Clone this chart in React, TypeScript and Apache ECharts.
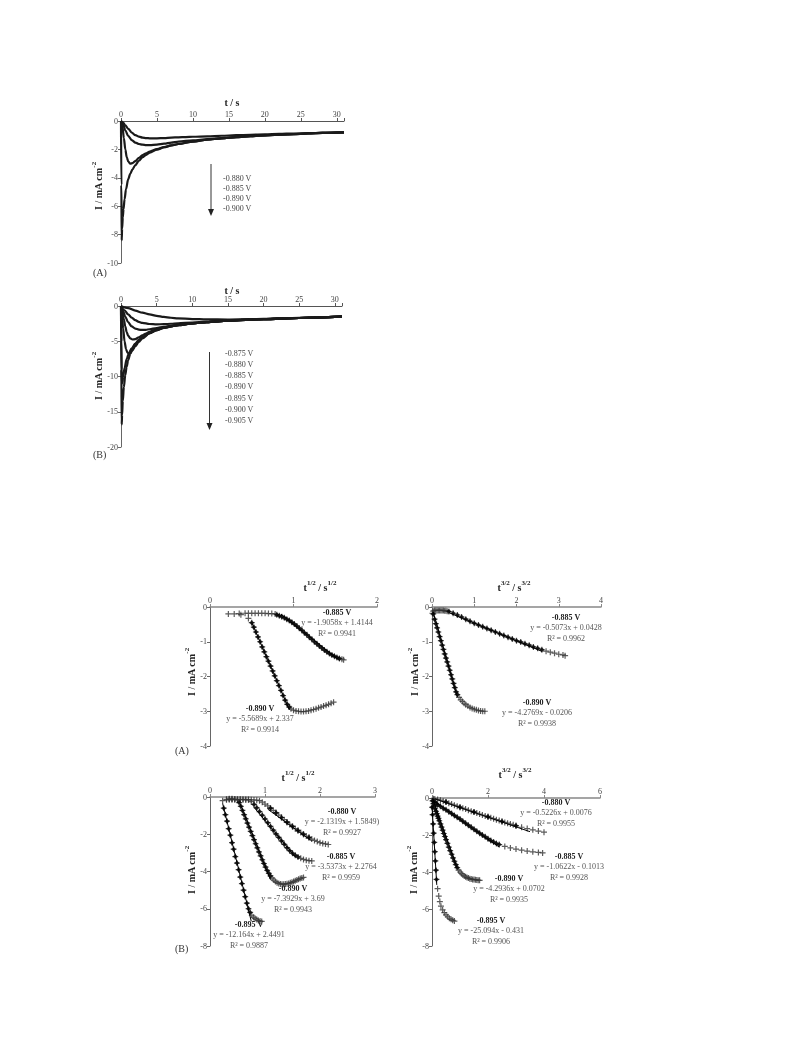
import React, { useEffect, useRef } from 'react';
import * as echarts from 'echarts';

const FONT = '"Liberation Serif", "DejaVu Serif", serif';

// ---------- Top panel (A): current transients [t / s, I / mA cm^-2]
const topALabels = ['-0.880 V', '-0.885 V', '-0.890 V', '-0.900 V'];
const topA880 = [[0,0],[0.3,-0.12],[0.6,-0.3],[1,-0.55],[1.5,-0.82],[2,-1.0],[2.5,-1.1],[3,-1.17],[3.5,-1.2],[4,-1.22],[5,-1.22],[6,-1.2],[7,-1.17],[8,-1.15],[9,-1.13],[10,-1.11],[12,-1.08],[14,-1.04],[16,-1.0],[18,-0.97],[20,-0.94],[22,-0.91],[24,-0.88],[26,-0.86],[28,-0.83],[30,-0.8],[31,-0.8]];
const topA885 = [[0,0],[0.3,-0.25],[0.6,-0.65],[1,-1.05],[1.5,-1.35],[2,-1.52],[2.5,-1.62],[3,-1.67],[3.5,-1.7],[4,-1.7],[5,-1.66],[6,-1.6],[7,-1.52],[8,-1.45],[10,-1.36],[12,-1.28],[14,-1.2],[16,-1.13],[18,-1.07],[20,-1.01],[24,-0.92],[28,-0.84],[31,-0.8]];
const topA890 = [[0,0],[0.2,-0.4],[0.4,-1.2],[0.6,-2.0],[0.8,-2.55],[1,-2.85],[1.3,-3.0],[1.6,-2.97],[2,-2.82],[2.5,-2.6],[3,-2.4],[3.5,-2.27],[4,-2.15],[5,-1.98],[6,-1.84],[7,-1.72],[8,-1.62],[10,-1.45],[12,-1.32],[14,-1.22],[16,-1.14],[18,-1.07],[20,-1.01],[24,-0.92],[28,-0.84],[31,-0.8]];
const topA900 = [[0,0],[0.05,-4.5],[0.1,-8.4],[0.15,-7.6],[0.25,-6.8],[0.35,-6.2],[0.5,-5.5],[0.7,-4.8],[1,-4.1],[1.3,-3.7],[1.6,-3.4],[2,-3.1],[2.5,-2.8],[3,-2.55],[3.5,-2.38],[4,-2.23],[5,-2.02],[6,-1.85],[7,-1.72],[8,-1.62],[10,-1.45],[12,-1.32],[14,-1.22],[16,-1.14],[18,-1.07],[20,-1.01],[22,-0.96],[24,-0.92],[26,-0.88],[28,-0.84],[31,-0.8]];

// ---------- Top panel (B)
const topBLabels = ['-0.875 V', '-0.880 V', '-0.885 V', '-0.890 V', '-0.895 V', '-0.900 V', '-0.905 V'];
const topB875 = [[0,0],[1,-0.3],[2,-0.65],[3,-0.95],[4,-1.2],[5,-1.4],[6,-1.55],[7,-1.67],[8,-1.75],[10,-1.85],[12,-1.9],[15,-1.92],[18,-1.88],[20,-1.82],[22,-1.76],[25,-1.68],[28,-1.6],[31,-1.52]];
const topB880 = [[0,0],[0.5,-0.6],[1,-1.2],[1.5,-1.65],[2,-2.0],[2.5,-2.25],[3,-2.4],[4,-2.55],[5,-2.6],[6,-2.58],[7,-2.52],[8,-2.45],[10,-2.35],[12,-2.22],[15,-2.05],[18,-1.92],[20,-1.85],[22,-1.78],[25,-1.7],[28,-1.6],[31,-1.52]];
const topB885 = [[0,0],[0.3,-0.7],[0.6,-1.5],[1,-2.3],[1.5,-2.9],[2,-3.2],[2.5,-3.35],[3,-3.4],[3.5,-3.38],[4,-3.3],[5,-3.12],[6,-2.95],[7,-2.8],[8,-2.68],[10,-2.47],[12,-2.28],[15,-2.08],[18,-1.94],[20,-1.86],[25,-1.7],[31,-1.52]];
const topB890 = [[0,0],[0.2,-0.8],[0.4,-1.9],[0.6,-2.9],[0.8,-3.7],[1,-4.2],[1.3,-4.6],[1.6,-4.75],[2,-4.7],[2.5,-4.45],[3,-4.15],[3.5,-3.9],[4,-3.65],[5,-3.3],[6,-3.05],[7,-2.85],[8,-2.7],[10,-2.47],[12,-2.28],[15,-2.08],[20,-1.86],[25,-1.7],[31,-1.52]];
const topB895 = [[0,0],[0.15,-1.5],[0.3,-3.2],[0.5,-5.0],[0.7,-6.1],[0.9,-6.6],[1.1,-6.75],[1.3,-6.7],[1.6,-6.3],[2,-5.7],[2.5,-5.1],[3,-4.6],[4,-3.9],[5,-3.45],[6,-3.1],[7,-2.88],[8,-2.72],[10,-2.48],[12,-2.28],[15,-2.08],[20,-1.86],[25,-1.7],[31,-1.52]];
const topB900 = [[0,0],[0.05,-5],[0.1,-11],[0.2,-10.8],[0.3,-10.0],[0.5,-8.8],[0.8,-7.5],[1.1,-6.7],[1.5,-6.0],[2,-5.35],[2.5,-4.85],[3,-4.45],[4,-3.85],[5,-3.42],[6,-3.1],[8,-2.72],[10,-2.48],[12,-2.28],[15,-2.08],[20,-1.86],[25,-1.7],[31,-1.52]];
const topB905 = [[0,0],[0.05,-9],[0.1,-16.8],[0.15,-15.5],[0.25,-13.5],[0.4,-11.5],[0.6,-9.8],[0.8,-8.6],[1,-7.7],[1.3,-6.8],[1.6,-6.1],[2,-5.4],[2.5,-4.85],[3,-4.4],[4,-3.8],[5,-3.38],[6,-3.08],[8,-2.7],[10,-2.47],[12,-2.28],[15,-2.08],[20,-1.86],[25,-1.7],[31,-1.52]];

// ---------- Bottom (A) left: I vs t^1/2
const cA885Plus = [[0.22,-0.2],[0.29,-0.2],[0.35,-0.19],[0.37,-0.22],[0.42,-0.18],[0.46,-0.18],[0.5,-0.18],[0.54,-0.18],[0.58,-0.18],[0.62,-0.18],[0.66,-0.18],[0.7,-0.19],[0.74,-0.19],[0.78,-0.2],[1.58,-1.5],[1.6,-1.52]];
const cA885Dia = [[0.8,-0.22],[0.83,-0.25],[0.86,-0.28],[0.89,-0.31],[0.92,-0.35],[0.95,-0.39],[0.98,-0.44],[1.01,-0.49],[1.04,-0.55],[1.07,-0.61],[1.1,-0.67],[1.13,-0.74],[1.16,-0.8],[1.19,-0.87],[1.22,-0.93],[1.25,-1.0],[1.28,-1.06],[1.31,-1.12],[1.34,-1.18],[1.37,-1.24],[1.4,-1.29],[1.43,-1.34],[1.46,-1.38],[1.49,-1.42],[1.52,-1.45],[1.55,-1.48]];
const cA890Plus = [[0.46,-0.33],[0.97,-2.93],[1.0,-2.97],[1.03,-2.99],[1.06,-3.0],[1.09,-3.01],[1.12,-3.01],[1.15,-3.0],[1.18,-2.99],[1.21,-2.97],[1.24,-2.95],[1.27,-2.93],[1.3,-2.9],[1.33,-2.88],[1.36,-2.85],[1.39,-2.83],[1.42,-2.8],[1.45,-2.77],[1.48,-2.74]];
const cA890Dia = [[0.5,-0.45],[0.525,-0.58],[0.55,-0.72],[0.575,-0.86],[0.6,-1.0],[0.625,-1.15],[0.65,-1.29],[0.675,-1.43],[0.7,-1.56],[0.725,-1.7],[0.75,-1.84],[0.775,-1.98],[0.8,-2.12],[0.825,-2.26],[0.85,-2.4],[0.875,-2.55],[0.9,-2.68],[0.925,-2.8],[0.95,-2.88]];

// ---------- Bottom (A) right: I vs t^3/2
const dA885Plus = [[0.03,-0.12],[0.06,-0.1],[0.09,-0.1],[0.12,-0.1],[0.15,-0.1],[0.18,-0.1],[0.21,-0.1],[0.24,-0.1],[0.27,-0.1],[0.3,-0.11],[0.33,-0.11],[0.36,-0.12],[2.7,-1.27],[2.8,-1.3],[2.9,-1.33],[3.0,-1.36],[3.1,-1.38],[3.15,-1.4]];
const dA885Dia = [[0.4,-0.13],[0.5,-0.18],[0.6,-0.23],[0.7,-0.29],[0.8,-0.35],[0.9,-0.41],[1.0,-0.47],[1.1,-0.52],[1.2,-0.57],[1.3,-0.62],[1.4,-0.67],[1.5,-0.72],[1.6,-0.77],[1.7,-0.82],[1.8,-0.87],[1.9,-0.92],[2.0,-0.97],[2.1,-1.01],[2.2,-1.06],[2.3,-1.1],[2.4,-1.15],[2.5,-1.19],[2.6,-1.23]];
const dA890Plus = [[0.01,-0.18],[0.64,-2.6],[0.68,-2.67],[0.72,-2.72],[0.76,-2.77],[0.8,-2.81],[0.85,-2.85],[0.9,-2.89],[0.95,-2.92],[1.0,-2.94],[1.05,-2.96],[1.1,-2.98],[1.15,-2.99],[1.2,-3.0],[1.25,-3.0]];
const dA890Dia = [[0.03,-0.2],[0.06,-0.35],[0.09,-0.48],[0.12,-0.6],[0.15,-0.72],[0.18,-0.85],[0.21,-0.97],[0.24,-1.1],[0.27,-1.22],[0.3,-1.35],[0.33,-1.47],[0.36,-1.58],[0.39,-1.7],[0.42,-1.82],[0.45,-1.95],[0.48,-2.07],[0.51,-2.2],[0.54,-2.32],[0.57,-2.44],[0.6,-2.52]];

// ---------- Bottom (B) left: I vs t^1/2
const eB880Plus = [[0.3,-0.15],[0.35,-0.14],[0.4,-0.15],[0.45,-0.13],[0.5,-0.15],[0.55,-0.14],[0.6,-0.14],[0.65,-0.15],[0.7,-0.14],[0.75,-0.15],[0.8,-0.16],[0.85,-0.17],[0.9,-0.2],[0.95,-0.28],[1.0,-0.38],[1.05,-0.48],[1.1,-0.6],[1.15,-0.72],[1.2,-0.85],[1.25,-0.97],[1.3,-1.1],[1.35,-1.22],[1.4,-1.35],[1.45,-1.47],[1.5,-1.58],[1.55,-1.7],[1.6,-1.8],[1.65,-1.9],[1.7,-2.0],[1.75,-2.1],[1.8,-2.18],[1.85,-2.26],[1.9,-2.33],[1.95,-2.39],[2.0,-2.45],[2.05,-2.49],[2.1,-2.52],[2.15,-2.55]];
const eB880Dia = [[1.1,-0.6],[1.2,-0.85],[1.3,-1.1],[1.4,-1.35],[1.5,-1.58],[1.6,-1.8],[1.7,-2.0],[1.8,-2.18]];
const eB885Plus = [[0.3,-0.12],[0.35,-0.12],[0.4,-0.11],[0.45,-0.12],[0.5,-0.12],[0.55,-0.12],[0.6,-0.13],[0.65,-0.13],[0.7,-0.15],[0.75,-0.25],[1.65,-3.29],[1.7,-3.35],[1.75,-3.39],[1.8,-3.42],[1.85,-3.43]];
const eB885Dia = [[0.8,-0.4],[0.85,-0.58],[0.9,-0.78],[0.95,-0.98],[1.0,-1.18],[1.05,-1.38],[1.1,-1.58],[1.15,-1.78],[1.2,-1.98],[1.25,-2.17],[1.3,-2.36],[1.35,-2.54],[1.4,-2.72],[1.45,-2.88],[1.5,-3.02],[1.55,-3.13],[1.6,-3.22]];
const eB890Plus = [[0.35,-0.1],[0.4,-0.1],[0.45,-0.12],[0.5,-0.15],[1.13,-4.36],[1.16,-4.46],[1.19,-4.54],[1.22,-4.6],[1.25,-4.64],[1.28,-4.67],[1.31,-4.68],[1.34,-4.68],[1.37,-4.67],[1.4,-4.66],[1.43,-4.64],[1.46,-4.61],[1.49,-4.58],[1.52,-4.54],[1.55,-4.5],[1.58,-4.46],[1.61,-4.42],[1.64,-4.38],[1.67,-4.35],[1.7,-4.32]];
const eB890Dia = [[0.53,-0.3],[0.56,-0.5],[0.59,-0.72],[0.62,-0.95],[0.65,-1.17],[0.68,-1.4],[0.71,-1.62],[0.74,-1.85],[0.77,-2.07],[0.8,-2.29],[0.83,-2.51],[0.86,-2.73],[0.89,-2.95],[0.92,-3.16],[0.95,-3.37],[0.98,-3.57],[1.01,-3.76],[1.04,-3.94],[1.07,-4.1],[1.1,-4.24]];
const eB895Plus = [[0.23,-0.2],[0.76,-6.35],[0.79,-6.45],[0.82,-6.52],[0.85,-6.58],[0.88,-6.63],[0.91,-6.66],[0.94,-6.68]];
const eB895Dia = [[0.25,-0.6],[0.28,-0.95],[0.31,-1.3],[0.34,-1.7],[0.37,-2.05],[0.4,-2.45],[0.43,-2.8],[0.46,-3.2],[0.49,-3.55],[0.52,-3.9],[0.55,-4.3],[0.58,-4.65],[0.61,-5.0],[0.64,-5.35],[0.67,-5.7],[0.7,-6.0],[0.73,-6.2]];

// ---------- Bottom (B) right: I vs t^3/2
const fB880Plus = [[0.05,-0.04],[0.1,-0.05],[0.2,-0.08],[0.3,-0.12],[0.4,-0.17],[0.5,-0.22],[0.6,-0.28],[0.7,-0.33],[0.8,-0.39],[0.9,-0.44],[1.0,-0.5],[1.1,-0.55],[1.2,-0.6],[1.3,-0.66],[1.4,-0.71],[1.5,-0.76],[1.6,-0.81],[1.7,-0.87],[1.8,-0.92],[1.9,-0.97],[2.0,-1.02],[2.1,-1.07],[2.2,-1.12],[2.3,-1.17],[2.4,-1.22],[2.5,-1.27],[2.6,-1.32],[2.7,-1.36],[2.8,-1.41],[2.9,-1.45],[3.0,-1.5],[3.2,-1.58],[3.4,-1.65],[3.6,-1.72],[3.8,-1.79],[4.0,-1.85]];
const fB880Dia = [[0.5,-0.22],[1.0,-0.5],[1.5,-0.76],[2.0,-1.02],[2.5,-1.27],[3.0,-1.5]];
const fB885Plus = [[2.6,-2.62],[2.8,-2.7],[3.0,-2.76],[3.2,-2.82],[3.4,-2.87],[3.6,-2.91],[3.8,-2.94],[3.95,-2.97]];
const fB885Dia = [[0.05,-0.15],[0.1,-0.22],[0.15,-0.3],[0.2,-0.37],[0.3,-0.45],[0.4,-0.55],[0.5,-0.64],[0.6,-0.74],[0.7,-0.84],[0.8,-0.94],[0.9,-1.04],[1.0,-1.14],[1.1,-1.25],[1.2,-1.36],[1.3,-1.47],[1.4,-1.58],[1.5,-1.69],[1.6,-1.8],[1.7,-1.9],[1.8,-2.0],[1.9,-2.1],[2.0,-2.2],[2.1,-2.3],[2.2,-2.38],[2.3,-2.46],[2.4,-2.52]];
const fB890Plus = [[0.95,-3.9],[1.0,-4.0],[1.05,-4.08],[1.1,-4.15],[1.15,-4.21],[1.2,-4.26],[1.25,-4.3],[1.3,-4.33],[1.35,-4.36],[1.4,-4.38],[1.45,-4.4],[1.5,-4.41],[1.55,-4.42],[1.6,-4.43],[1.65,-4.44],[1.7,-4.45]];
const fB890Dia = [[0.02,-0.15],[0.05,-0.3],[0.08,-0.45],[0.11,-0.58],[0.14,-0.72],[0.17,-0.85],[0.2,-0.98],[0.23,-1.1],[0.26,-1.23],[0.3,-1.4],[0.34,-1.57],[0.38,-1.74],[0.42,-1.92],[0.46,-2.08],[0.5,-2.25],[0.55,-2.45],[0.6,-2.66],[0.65,-2.85],[0.7,-3.04],[0.75,-3.24],[0.8,-3.42],[0.85,-3.6],[0.9,-3.76]];
const fB895Plus = [[0.2,-4.9],[0.24,-5.3],[0.28,-5.6],[0.32,-5.85],[0.38,-6.05],[0.44,-6.2],[0.5,-6.32],[0.56,-6.42],[0.62,-6.5],[0.68,-6.56],[0.74,-6.61],[0.8,-6.65]];
const fB895Dia = [[0.0,-0.5],[0.02,-0.9],[0.04,-1.4],[0.06,-1.9],[0.08,-2.4],[0.1,-2.9],[0.12,-3.4],[0.14,-3.9],[0.16,-4.4]];

// Linear fits: [slope, intercept], fit x-range
const fitCA885 = [-1.9058, 1.4144]; const rangeCA885 = [0.85, 1.55];
const fitCA890 = [-5.5689, 2.337]; const rangeCA890 = [0.5, 0.95];
const fitDA885 = [-0.5073, 0.0428]; const rangeDA885 = [0.4, 2.6];
const fitDA890 = [-4.2769, -0.0206]; const rangeDA890 = [0.03, 0.6];
const fitEB880 = [-2.1319, 1.5849]; const rangeEB880 = [1.05, 1.85];
const fitEB885 = [-3.5373, 2.2764]; const rangeEB885 = [0.8, 1.55];
const fitEB890 = [-7.3929, 3.69]; const rangeEB890 = [0.55, 1.1];
const fitEB895 = [-12.164, 2.4491]; const rangeEB895 = [0.23, 0.75];
const fitFB880 = [-0.5226, 0.0076]; const rangeFB880 = [0.1, 3.5];
const fitFB885 = [-1.0622, -0.1013]; const rangeFB885 = [0.05, 2.4];
const fitFB890 = [-4.2936, 0.0702]; const rangeFB890 = [0.02, 0.9];
const fitFB895 = [-25.094, -0.431]; const rangeFB895 = [0.0, 0.17];

const PLUS = 'path://M4,0H6V4H10V6H6V10H4V6H0V4H4Z';

function fitData(fit: number[], range: number[]) {
  return range.map((x) => [x, fit[0] * x + fit[1]]);
}

function transient(g: number, data: number[][]) {
  return {
    type: 'line', xAxisIndex: g, yAxisIndex: g, data, showSymbol: false,
    smooth: 0.3, smoothMonotone: 'x',
    lineStyle: { color: '#1a1a1a', width: 2.2 }, silent: true,
  };
}

function curve(g: number, plus: number[][], dia: number[][], fit: number[], range: number[]) {
  return [
    { type: 'scatter', xAxisIndex: g, yAxisIndex: g, data: plus, symbol: PLUS, symbolSize: 6, itemStyle: { color: '#333' }, silent: true },
    { type: 'scatter', xAxisIndex: g, yAxisIndex: g, data: dia, symbol: PLUS, symbolSize: 6, itemStyle: { color: '#333' }, silent: true },
    { type: 'scatter', xAxisIndex: g, yAxisIndex: g, data: dia, symbol: 'diamond', symbolSize: 5, itemStyle: { color: '#000' }, silent: true },
    { type: 'line', xAxisIndex: g, yAxisIndex: g, data: fitData(fit, range), showSymbol: false, lineStyle: { color: '#000', width: 1 }, silent: true },
  ];
}

function xAx(g: number, min: number, max: number, interval: number, color: string, width: number, step?: number) {
  return {
    gridIndex: g, type: 'value', position: 'top', min, max, interval,
    axisLine: { onZero: false, lineStyle: { color, width } },
    axisTick: { show: true, length: 3, lineStyle: { color } },
    axisLabel: {
      fontFamily: FONT, fontSize: 8, color: '#444', margin: 3,
      formatter: (v: number) => (step && Math.abs(v % step) > 1e-9 ? '' : String(v)),
    },
    splitLine: { show: false },
  };
}

function yAx(g: number, min: number, max: number, interval: number) {
  return {
    gridIndex: g, type: 'value', position: 'left', min, max, interval,
    axisLine: { onZero: false, lineStyle: { color: '#666', width: 1 } },
    axisTick: { show: true, length: 3, lineStyle: { color: '#666' } },
    axisLabel: { fontFamily: FONT, fontSize: 8, color: '#444', margin: 3 },
    splitLine: { show: false },
  };
}

function txt(x: number, y: number, text: string, font: string, color = '#333', align = 'center', extra: any = {}) {
  return {
    type: 'text', x, y, silent: true,
    style: { text, font, fill: color, textAlign: align, textVerticalAlign: 'middle', align, verticalAlign: 'middle', ...extra },
  };
}

const supRich = (size: number) => ({
  b: { font: `bold ${size}px ${FONT}`, fill: '#222', verticalAlign: 'bottom' },
  s: { font: `bold ${Math.round(size * 0.68)}px ${FONT}`, fill: '#222', verticalAlign: 'top', padding: [0, 0, 6, 0] },
});

function yTitle(x: number, y: number) {
  return {
    type: 'text', x, y, rotation: Math.PI / 2, silent: true,
    style: {
      text: '{b|I / mA cm}{s|-2}', rich: supRich(10), textAlign: 'center', textVerticalAlign: 'middle',
      align: 'center', verticalAlign: 'middle',
    },
  };
}

function xTitleSup(x: number, y: number, p: string) {
  return {
    type: 'text', x, y, silent: true,
    style: {
      text: `{b|t}{s|${p}}{b| / s}{s|${p}}`, rich: supRich(10), textAlign: 'center', textVerticalAlign: 'middle',
      align: 'center', verticalAlign: 'middle',
    },
  };
}

function eqBlock(x: number, y: number, label: string, eq: string, r2: string) {
  return [
    txt(x, y, label, `bold 8px ${FONT}`, '#222'),
    txt(x, y + 10.5, eq, `8px ${FONT}`, '#555'),
    txt(x, y + 21, r2, `8px ${FONT}`, '#555'),
  ];
}

export default function App() {
  const ref = useRef<HTMLDivElement>(null);
  useEffect(() => {
    if (!ref.current) return;
    const chart = echarts.init(ref.current, undefined, { renderer: 'svg' });
    const legendFont = `8px ${FONT}`;
    const graphic: any[] = [
      txt(232, 102, 't / s', `bold 10px ${FONT}`, '#222'),
      txt(232, 290, 't / s', `bold 10px ${FONT}`, '#222'),
      yTitle(97, 186),
      yTitle(97, 376),
      txt(93, 272, '(A)', `10px ${FONT}`, '#333', 'left'),
      txt(93, 454, '(B)', `10px ${FONT}`, '#333', 'left'),
      { type: 'line', silent: true, shape: { x1: 211, y1: 164, x2: 211, y2: 210 }, style: { stroke: '#333', lineWidth: 1 } },
      { type: 'polygon', silent: true, shape: { points: [[208, 209], [214, 209], [211, 216]] }, style: { fill: '#222' } },
      { type: 'line', silent: true, shape: { x1: 209.5, y1: 352, x2: 209.5, y2: 424 }, style: { stroke: '#333', lineWidth: 1 } },
      { type: 'polygon', silent: true, shape: { points: [[206.5, 423], [212.5, 423], [209.5, 430]] }, style: { fill: '#222' } },
      ...topALabels.map((l, i) => txt(223, 178 + i * 10.3, l, legendFont, '#444', 'left')),
      ...topBLabels.map((l, i) => txt(225, 353 + i * 11.3, l, legendFont, '#444', 'left')),
      xTitleSup(320, 586, '1/2'),
      xTitleSup(514, 586, '3/2'),
      xTitleSup(298, 776, '1/2'),
      xTitleSup(515, 773, '3/2'),
      yTitle(190, 672),
      yTitle(413, 672),
      yTitle(190, 870),
      yTitle(412, 870),
      txt(175, 750, '(A)', `10px ${FONT}`, '#333', 'left'),
      txt(175, 948, '(B)', `10px ${FONT}`, '#333', 'left'),
      ...eqBlock(337, 612, '-0.885 V', 'y = -1.9058x + 1.4144', 'R\u00B2 = 0.9941'),
      ...eqBlock(260, 708, '-0.890 V', 'y = -5.5689x + 2.337', 'R\u00B2 = 0.9914'),
      ...eqBlock(566, 617, '-0.885 V', 'y = -0.5073x + 0.0428', 'R\u00B2 = 0.9962'),
      ...eqBlock(537, 702, '-0.890 V', 'y = -4.2769x - 0.0206', 'R\u00B2 = 0.9938'),
      ...eqBlock(342, 811, '-0.880 V', 'y = -2.1319x + 1.5849)', 'R\u00B2 = 0.9927'),
      ...eqBlock(341, 856, '-0.885 V', 'y = -3.5373x + 2.2764', 'R\u00B2 = 0.9959'),
      ...eqBlock(293, 888, '-0.890 V', 'y = -7.3929x + 3.69', 'R\u00B2 = 0.9943'),
      ...eqBlock(249, 924, '-0.895 V', 'y = -12.164x + 2.4491', 'R\u00B2 = 0.9887'),
      ...eqBlock(556, 802, '-0.880 V', 'y = -0.5226x + 0.0076', 'R\u00B2 = 0.9955'),
      ...eqBlock(569, 856, '-0.885 V', 'y = -1.0622x - 0.1013', 'R\u00B2 = 0.9928'),
      ...eqBlock(509, 878, '-0.890 V', 'y = -4.2936x + 0.0702', 'R\u00B2 = 0.9935'),
      ...eqBlock(491, 920, '-0.895 V', 'y = -25.094x - 0.431', 'R\u00B2 = 0.9906'),
    ];

    const option: any = {
      animation: false,
      backgroundColor: '#fff',
      grid: [
        { left: 121, top: 121, width: 223, height: 142 },
        { left: 121, top: 306, width: 221, height: 141 },
        { left: 210, top: 607, width: 167, height: 139 },
        { left: 432, top: 607, width: 169, height: 139 },
        { left: 210, top: 797, width: 165, height: 149 },
        { left: 432, top: 798, width: 168, height: 148 },
      ],
      xAxis: [
        xAx(0, 0, 31, 5, '#555', 1, 5),
        xAx(1, 0, 31, 5, '#555', 1, 5),
        xAx(2, 0, 2, 1, '#888', 1.5),
        xAx(3, 0, 4, 1, '#888', 1.5),
        xAx(4, 0, 3, 1, '#888', 1.5),
        xAx(5, 0, 6, 2, '#888', 1.5),
      ],
      yAxis: [
        yAx(0, -10, 0, 2),
        yAx(1, -20, 0, 5),
        yAx(2, -4, 0, 1),
        yAx(3, -4, 0, 1),
        yAx(4, -8, 0, 2),
        yAx(5, -8, 0, 2),
      ],
      graphic,
      series: [
        transient(0, topA880), transient(0, topA885), transient(0, topA890), transient(0, topA900),
        transient(1, topB875), transient(1, topB880), transient(1, topB885), transient(1, topB890),
        transient(1, topB895), transient(1, topB900), transient(1, topB905),
        ...curve(2, cA885Plus, cA885Dia, fitCA885, rangeCA885),
        ...curve(2, cA890Plus, cA890Dia, fitCA890, rangeCA890),
        ...curve(3, dA885Plus, dA885Dia, fitDA885, rangeDA885),
        ...curve(3, dA890Plus, dA890Dia, fitDA890, rangeDA890),
        ...curve(4, eB880Plus, eB880Dia, fitEB880, rangeEB880),
        ...curve(4, eB885Plus, eB885Dia, fitEB885, rangeEB885),
        ...curve(4, eB890Plus, eB890Dia, fitEB890, rangeEB890),
        ...curve(4, eB895Plus, eB895Dia, fitEB895, rangeEB895),
        ...curve(5, fB880Plus, fB880Dia, fitFB880, rangeFB880),
        ...curve(5, fB885Plus, fB885Dia, fitFB885, rangeFB885),
        ...curve(5, fB890Plus, fB890Dia, fitFB890, rangeFB890),
        ...curve(5, fB895Plus, fB895Dia, fitFB895, rangeFB895),
      ],
    };
    chart.setOption(option);
    return () => chart.dispose();
  }, []);
  return (
    <div
      ref={ref}
      style={{ position: 'absolute', left: 0, top: 0, width: 793, height: 1059, background: '#fff', filter: 'grayscale(100%)' }}
    />
  );
}
